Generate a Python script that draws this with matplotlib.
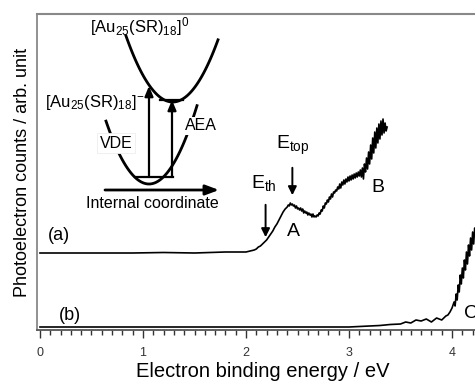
import matplotlib
matplotlib.use("Agg")
import matplotlib.pyplot as plt
import numpy as np
from matplotlib.ticker import MultipleLocator, NullLocator

plt.rcParams['font.family'] = ['Liberation Sans', 'DejaVu Sans']
plt.rcParams['mathtext.fontset'] = 'custom'
plt.rcParams['mathtext.rm'] = 'Liberation Sans'
plt.rcParams['mathtext.it'] = 'Liberation Sans:italic'
plt.rcParams['mathtext.bf'] = 'Liberation Sans:bold'

# spectrum (a): binding energy (eV) and counts (arb.)
# slow part of the onset, read by eye
energy_a_low = [0.00, 0.30, 0.60, 0.90, 1.20, 1.50, 1.80, 1.90, 2.00, 2.04, 2.08, 2.10,
                2.12, 2.14, 2.16, 2.18, 2.20, 2.22, 2.24, 2.26, 2.28, 2.30, 2.32, 2.34,
                2.36, 2.38]
counts_a_low = [77, 77, 77, 77, 77.5, 77, 78, 78, 78, 79, 80, 81,
                83, 84, 86, 88, 90, 93, 96, 99, 103, 106, 110, 114,
                118, 121]
# noisy part, one reading every 0.01 eV from 2.40 to 3.37 eV
counts_a_high = [123, 125, 124, 127, 125, 126, 124, 125, 122, 124,
                 121, 122, 120, 122, 119, 121, 117, 119, 117, 118,
                 115, 117, 115, 116, 113, 116, 113, 114, 113, 115,
                 114, 117, 116, 120, 119, 124, 122, 127, 126, 130,
                 128, 133, 131, 136, 133, 138, 137, 140, 139, 143,
                 141, 146, 142, 148, 145, 150, 146, 151, 148, 153,
                 149, 154, 150, 155, 151, 156, 152, 157, 153, 158,
                 154, 160, 153, 162, 151, 166, 158, 172, 161, 178,
                 166, 185, 171, 192, 177, 198, 182, 202, 187, 206,
                 191, 209, 195, 211, 197, 207, 199, 203]
energy_a_high = np.round(2.40 + 0.01 * np.arange(len(counts_a_high)), 2)

# spectrum (b)
energy_b = [0.00, 0.50, 1.00, 1.50, 2.00, 2.50, 3.00, 3.10, 3.20, 3.30, 3.40, 3.50,
            3.55, 3.60, 3.65, 3.70, 3.75, 3.80, 3.85, 3.90, 3.94, 3.96, 3.98, 4.00,
            4.02, 4.03, 4.04, 4.05, 4.06, 4.07, 4.08, 4.09, 4.10, 4.11, 4.12, 4.13,
            4.14, 4.15, 4.16, 4.17, 4.18, 4.19, 4.20, 4.21, 4.22, 4.23]
counts_b = [3, 3, 3, 3, 3, 3, 3, 3.5, 4, 4.5, 5.5, 6,
            8, 7, 10, 9, 11, 8, 12, 10, 14, 15, 18, 22,
            28, 24, 36, 30, 45, 38, 55, 46, 62, 52, 70, 60,
            78, 66, 85, 74, 92, 80, 98, 86, 102, 95]

# annotations on the spectra
e_th = 2.19
e_top = 2.45
peak_labels = ['A', 'B', 'C']
peak_pos = [(2.46, 98), (3.28, 142), (4.18, 17)]

# inset schematic (internal coordinate, energy)
upper_vertex, upper_k, upper_range = (87.7, 113), 0.0303, (41, 133)
lower_vertex, lower_k, lower_range = (64, 31), 0.034, (21, 112)
low_level, high_level = 38, 115

energy_a = np.concatenate([energy_a_low, energy_a_high])
counts_a = np.concatenate([counts_a_low, counts_a_high])

fig = plt.figure(figsize=(4.75, 3.81), dpi=100)
ax = fig.add_axes([37 / 475, 51 / 381, 438 / 475, 316 / 381])

ax.plot(energy_a, counts_a, color='black', lw=1.2)
ax.plot(energy_b, counts_b, color='black', lw=1.2)

ax.set_xlim(-0.029, 4.223)
ax.set_ylim(0, 316)
ax.xaxis.set_major_locator(MultipleLocator(1))
ax.xaxis.set_minor_locator(MultipleLocator(0.1))
ax.yaxis.set_major_locator(NullLocator())
ax.tick_params(axis='x', which='major', direction='out', length=6, width=1.0,
               labelsize=9, pad=6, colors='#333333')
ax.tick_params(axis='x', which='minor', direction='out', length=3.5, width=1.0, colors='#333333')
ax.spines['right'].set_visible(False)
ax.spines['top'].set_color('#888888')
ax.spines['top'].set_linewidth(1.5)
ax.spines['left'].set_color('#888888')
ax.spines['left'].set_linewidth(1.3)
ax.spines['bottom'].set_color('#555555')
ax.spines['bottom'].set_linewidth(1.3)

ax.set_xlabel('Electron binding energy / eV', fontsize=14.5)
ax.xaxis.set_label_coords(0.516, -0.10)
ax.set_ylabel('Photoelectron counts / arb. unit', fontsize=13, labelpad=4)

ax.text(0.18, 95, '(a)', fontsize=13, ha='center', va='center')
ax.text(0.29, 15, '(b)', fontsize=13, ha='center', va='center')

arrow_kw = dict(arrowstyle='-|>,head_length=0.5,head_width=0.25', color='black', lw=1.4)
ax.annotate('', xy=(e_th, 90), xytext=(e_th, 128), arrowprops=arrow_kw)
ax.annotate('', xy=(e_top, 132), xytext=(e_top, 165), arrowprops=arrow_kw)
ax.text(e_th - 0.02, 147, r'E$_{\mathrm{th}}$', fontsize=14, ha='center', va='center')
ax.text(e_top, 185, r'E$_{\mathrm{top}}$', fontsize=14, ha='center', va='center')
for lab, (x, y) in zip(peak_labels, peak_pos):
    ax.text(x, y, lab, fontsize=14, ha='center', va='center', clip_on=False)

# inset
ins = fig.add_axes([85 / 475, 166 / 381, 140 / 475, 200 / 381])
ins.set_xlim(0, 140)
ins.set_ylim(0, 200)
ins.axis('off')

xu = np.linspace(upper_range[0], upper_range[1], 100)
ins.plot(xu, upper_vertex[1] + upper_k * (xu - upper_vertex[0]) ** 2, color='black', lw=2, zorder=1)
xl = np.linspace(lower_range[0], lower_range[1], 100)
ins.plot(xl, lower_vertex[1] + lower_k * (xl - lower_vertex[0]) ** 2, color='black', lw=2, zorder=1)

ins.plot([50, 88], [low_level, low_level], color='black', lw=1.6, zorder=2)
ins.plot([75, 98], [high_level, high_level], color='black', lw=1.6, zorder=2)

v_kw = dict(arrowstyle='-|>,head_length=0.6,head_width=0.25', color='black', lw=1.6,
            shrinkA=0, shrinkB=0)
ins.annotate('', xy=(64, 129), xytext=(64, low_level), arrowprops=v_kw, zorder=7)
ins.annotate('', xy=(87, high_level), xytext=(87, low_level), arrowprops=v_kw, zorder=7)
ins.annotate('', xy=(134, 25), xytext=(20, 25),
             arrowprops=dict(arrowstyle='-|>,head_length=0.8,head_width=0.3', color='black',
                             lw=2, shrinkA=0, shrinkB=0), zorder=3)

box = dict(facecolor='white', edgecolor='#eeeeee', pad=2, lw=0.6)
ins.text(54.5, 188, r'[Au$_{25}$(SR)$_{18}$]$^{0}$', fontsize=12, ha='center', va='center', zorder=5)
ins.text(10, 113, r'[Au$_{25}$(SR)$_{18}$]$^{-}$', fontsize=12, ha='center', va='center',
         bbox=dict(facecolor='white', edgecolor='none', pad=0.5), zorder=5, clip_on=False)
ins.text(31, 72, 'VDE', fontsize=11.5, ha='center', va='center', bbox=box, zorder=5)
ins.text(116, 89, 'AEA', fontsize=11.5, ha='center', va='center',
         bbox=dict(facecolor='white', edgecolor='none', pad=1), zorder=5)
ins.text(67, 12, 'Internal coordinate', fontsize=11.5, ha='center', va='center', zorder=5)

fig.savefig('out.png', dpi=100)
